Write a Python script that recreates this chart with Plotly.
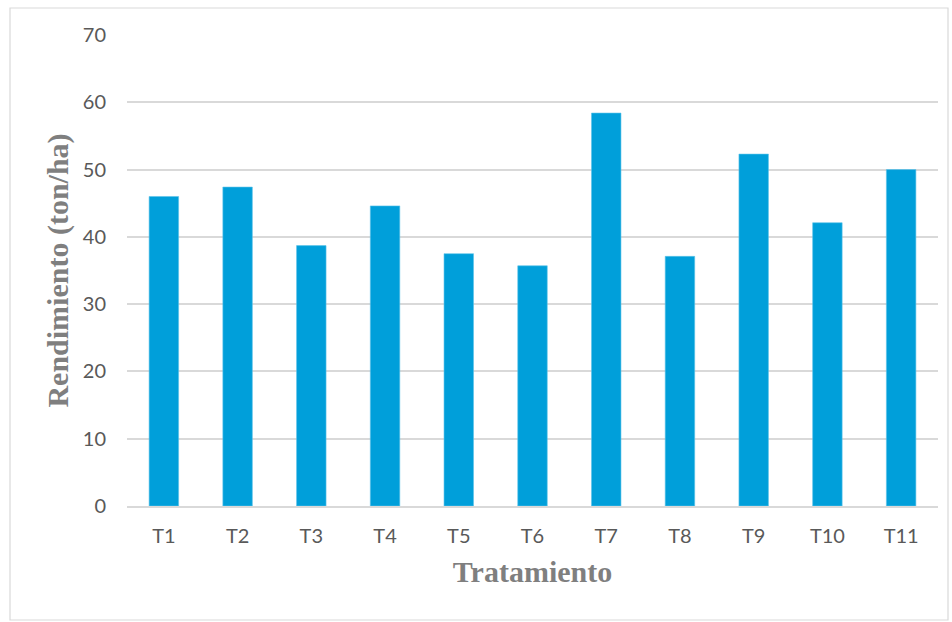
import plotly.graph_objects as go

categories = ["T1", "T2", "T3", "T4", "T5", "T6", "T7", "T8", "T9", "T10", "T11"]
rendimiento = [46.0, 47.4, 38.7, 44.6, 37.5, 35.7, 58.4, 37.1, 52.3, 42.1, 50.0]
y_ticks = [0, 10, 20, 30, 40, 50, 60, 70]

fig = go.Figure()
fig.add_trace(go.Bar(
    x=categories, y=rendimiento,
    marker=dict(color="#009FDA", line=dict(color="#5CC2EA", width=0.6)),
    hoverinfo="x+y",
))

tick_font = dict(family="Lato, sans-serif", size=20, color="#595959")
title_font = dict(family="Liberation Serif, Times New Roman, serif", size=30, color="#7F7F7F")

fig.update_layout(
    width=952, height=622,
    margin=dict(l=127, r=14, t=35, b=116),
    paper_bgcolor="white", plot_bgcolor="white",
    bargap=0.6,
    showlegend=False,
    xaxis=dict(
        tickfont=tick_font, showgrid=False, zeroline=False,
        showline=True, linecolor="#D9D9D9", linewidth=1.5,
        ticks="", ticklabelstandoff=11,
        title=dict(text="<b>Tratamiento</b>", font=title_font, standoff=15),
    ),
    yaxis=dict(
        range=[0, 70], tickvals=y_ticks, tickfont=tick_font,
        showgrid=True, gridcolor="#D9D9D9", gridwidth=1.5,
        zeroline=False, showline=False, ticks="", ticklabelstandoff=20,
        title=dict(text="<b>Rendimiento (ton/ha)</b>", font=title_font, standoff=5),
    ),
    shapes=[dict(
        type="rect", xref="paper", yref="paper",
        x0=(10 - 127) / 811, x1=(948 - 127) / 811,
        y0=(506 - 620) / 471, y1=(506 - 8) / 471,
        line=dict(color="#D9D9D9", width=1.2), fillcolor="rgba(0,0,0,0)", layer="below",
    )],
)

fig.write_html("out.html")
